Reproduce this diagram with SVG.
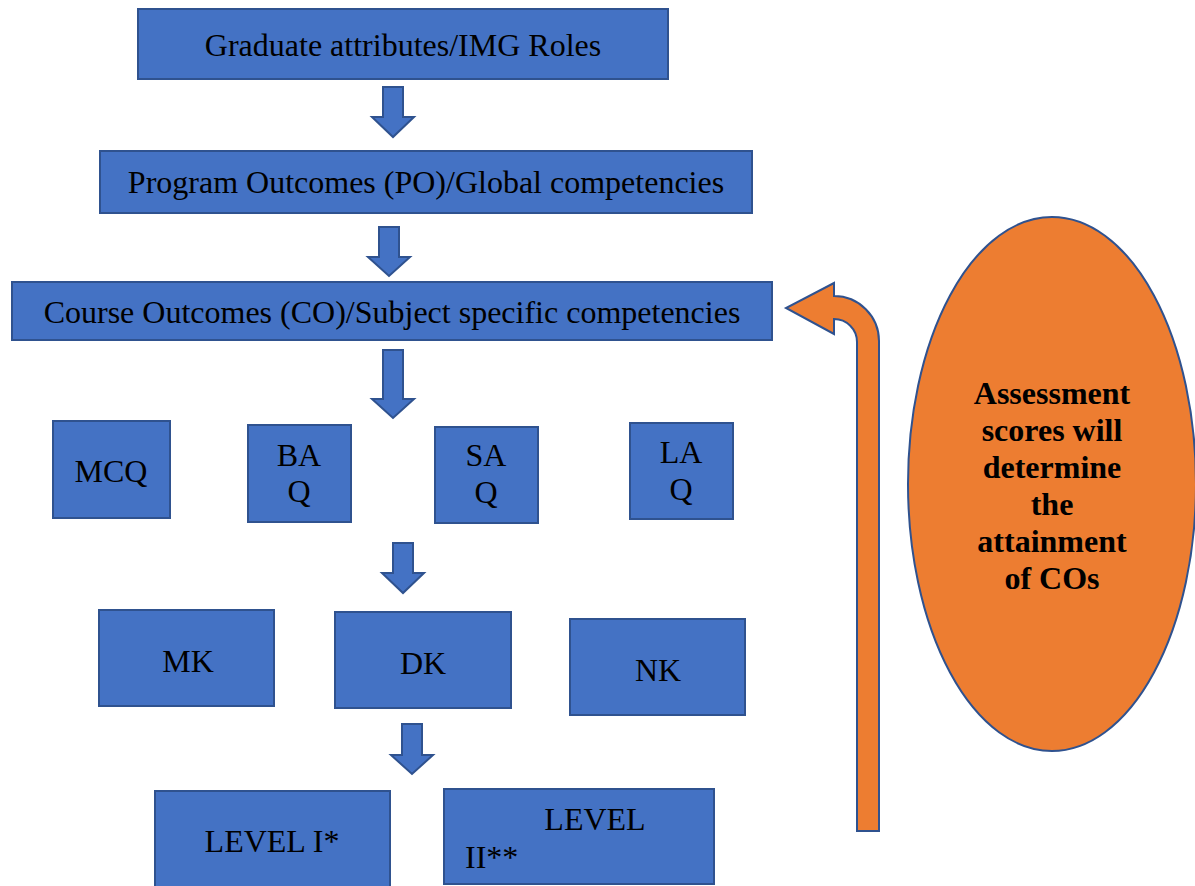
<svg xmlns="http://www.w3.org/2000/svg" width="1195" height="886" viewBox="0 0 1195 886">
<style>
.box{fill:#4472C4;stroke:#2F528F;stroke-width:2}
.arr{fill:#4472C4;stroke:#2F528F;stroke-width:2;stroke-linejoin:miter}
.org{fill:#ED7D31;stroke:#2F528F;stroke-width:2}
.t{font-family:"Liberation Serif","Times New Roman",serif;font-size:32px;fill:#000;text-anchor:middle}
.b{font-family:"Liberation Serif","Times New Roman",serif;font-size:32px;font-weight:bold;fill:#000;text-anchor:middle}
</style>
<rect width="1195" height="886" fill="#fff"/>
<g id="connectors">
<path class="arr" d="M383 87 H403 V117 H414 L393 137 L372 117 H383 Z"/>
<path class="arr" d="M379 227 H399 V257 H410 L389 276 L368 257 H379 Z"/>
<path class="arr" d="M383 350 H403 V399 H414 L393 418 L372 399 H383 Z"/>
<path class="arr" d="M393 543 H413 V573 H424 L403 593 L382 573 H393 Z"/>
<path class="arr" d="M402 724 H422 V755 H433 L412 774 L391 755 H402 Z"/>
<path class="org" d="M857 831 V342 A23 23 0 0 0 834 319 V334 L786 308 L834 283 V296 A45 45 0 0 1 879 341 V831 Z"/>
</g>
<g id="n-graduate"><rect class="box" x="138" y="9" width="530" height="70"/><text class="t" x="403" y="56">Graduate attributes/IMG Roles</text></g>
<g id="n-po"><rect class="box" x="100" y="151" width="652" height="62"/><text class="t" x="426" y="193">Program Outcomes (PO)/Global competencies</text></g>
<g id="n-co"><rect class="box" x="12" y="282" width="760" height="58"/><text class="t" x="392" y="323">Course Outcomes (CO)/Subject specific competencies</text></g>
<g id="n-mcq"><rect class="box" x="53" y="421" width="117" height="97"/><text class="t" x="111" y="482">MCQ</text></g>
<g id="n-baq"><rect class="box" x="248" y="425" width="103" height="97"/><text class="t" x="299" y="466">BA</text><text class="t" x="299" y="502">Q</text></g>
<g id="n-saq"><rect class="box" x="435" y="427" width="103" height="96"/><text class="t" x="486" y="466">SA</text><text class="t" x="486" y="503">Q</text></g>
<g id="n-laq"><rect class="box" x="630" y="423" width="103" height="96"/><text class="t" x="681" y="463">LA</text><text class="t" x="681" y="500">Q</text></g>
<g id="n-mk"><rect class="box" x="99" y="610" width="175" height="96"/><text class="t" x="188" y="672">MK</text></g>
<g id="n-dk"><rect class="box" x="335" y="612" width="176" height="96"/><text class="t" x="423" y="674">DK</text></g>
<g id="n-nk"><rect class="box" x="570" y="619" width="175" height="96"/><text class="t" x="658" y="681">NK</text></g>
<g id="n-level1"><rect class="box" x="155" y="791" width="235" height="100"/><text class="t" x="272" y="852">LEVEL I*</text></g>
<g id="n-level2"><rect class="box" x="444" y="789" width="270" height="95"/><text class="t" x="595" y="830">LEVEL</text><text class="t" x="465" y="868" style="text-anchor:start">II**</text></g>
<g id="n-assessment"><ellipse class="org" cx="1052" cy="484" rx="144" ry="267"/>
<text class="b" x="1052" y="404">Assessment</text>
<text class="b" x="1052" y="441">scores will</text>
<text class="b" x="1052" y="478">determine</text>
<text class="b" x="1052" y="515">the</text>
<text class="b" x="1052" y="552">attainment</text>
<text class="b" x="1052" y="589">of COs</text></g>
</svg>
